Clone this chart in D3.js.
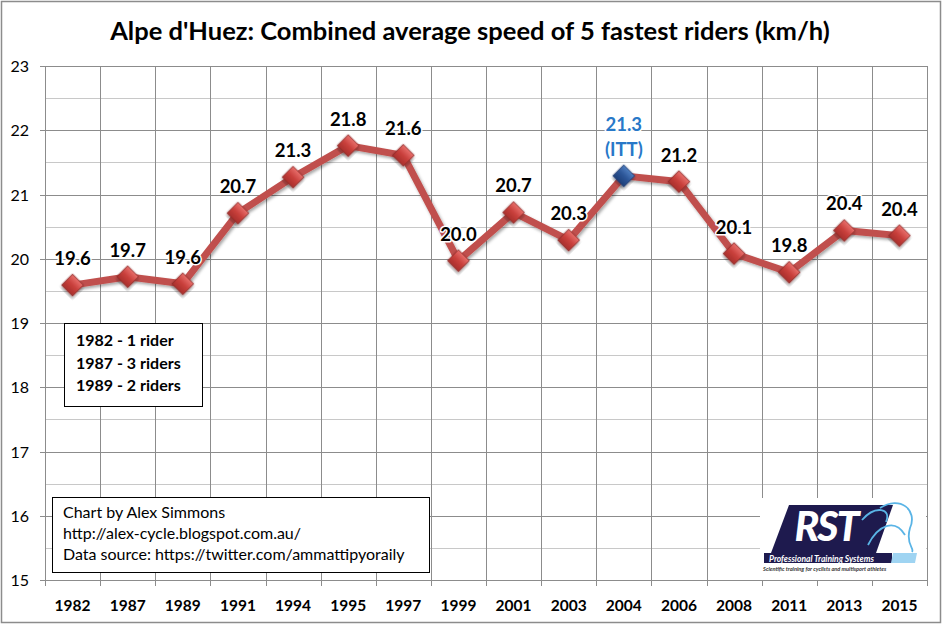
<!DOCTYPE html>
<html><head><meta charset="utf-8">
<script src="https://cdn.jsdelivr.net/npm/d3@7"></script>
<style>body{margin:0;background:#fff}svg{display:block}text{font-family:Lato,"Open Sans",sans-serif}</style>
</head><body><svg id="c" width="944" height="625"></svg>
<script>
const years = ["1982","1987","1989","1991","1994","1995","1997","1999","2001","2003","2004","2006","2008","2011","2013","2015"];
const speeds = [19.59,19.72,19.61,20.71,21.27,21.76,21.61,19.97,20.72,20.29,21.29,21.2,20.08,19.79,20.44,20.36];
const yTicks = [15,16,17,18,19,20,21,22,23];
const highlightYear = "2004";
const highlightNote = "(ITT)";
const noteLines = ["1982 - 1 rider","1987 - 3 riders","1989 - 2 riders"];
const creditLines = ["Chart by Alex Simmons","http://alex-cycle.blogspot.com.au/","Data source: https://twitter.com/ammattipyoraily"];
const titleText = "Alpe d'Huez: Combined average speed of 5 fastest riders (km/h)";

const svg = d3.select("#c");
const L=45,R=927,T=66,B=580;
const x = d3.scaleBand().domain(years).range([L,R]);
const y = d3.scaleLinear().domain([15,23]).range([B,T]);

const defs = svg.append("defs");
const gr = defs.append("linearGradient").attr("id","gr").attr("x1",0).attr("y1",0).attr("x2",0).attr("y2",1);
gr.append("stop").attr("offset","0").attr("stop-color","#e8706c");
gr.append("stop").attr("offset","0.5").attr("stop-color","#c9403c");
gr.append("stop").attr("offset","1").attr("stop-color","#a82f2c");
const gb = defs.append("linearGradient").attr("id","gb").attr("x1",0).attr("y1",0).attr("x2",0).attr("y2",1);
gb.append("stop").attr("offset","0").attr("stop-color","#4f7ec0");
gb.append("stop").attr("offset","0.5").attr("stop-color","#2c5597");
gb.append("stop").attr("offset","1").attr("stop-color","#1d3f78");
const sh = defs.append("filter").attr("id","sh").attr("x","-20%").attr("y","-20%").attr("width","140%").attr("height","140%");
sh.append("feDropShadow").attr("dx",1.5).attr("dy",2).attr("stdDeviation",1.5).attr("flood-color","#000").attr("flood-opacity",0.35);

// outer border
svg.append("rect").attr("x",1.5).attr("y",1.5).attr("width",939).attr("height",621).attr("fill","#fff").attr("stroke","#8c8c8c").attr("stroke-width",1.5);

// title
svg.append("text").attr("x",470).attr("y",40).attr("text-anchor","middle").attr("font-size",25.5).attr("font-weight","bold").attr("fill","#000").text(titleText);

// minor gridlines
const minor = d3.range(15.5,23,1);
svg.append("g").selectAll("line").data(minor).join("line")
  .attr("x1",L).attr("x2",R).attr("y1",d=>Math.round(y(d))+0.5).attr("y2",d=>Math.round(y(d))+0.5)
  .attr("stroke","#c8c8c8").attr("stroke-width",1);
// major gridlines
svg.append("g").selectAll("line").data(yTicks).join("line")
  .attr("x1",L-5).attr("x2",R).attr("y1",d=>Math.round(y(d))+0.5).attr("y2",d=>Math.round(y(d))+0.5)
  .attr("stroke","#8c8c8c").attr("stroke-width",1);
// vertical gridlines
const bounds = years.map(d=>x(d)).concat([R]);
svg.append("g").selectAll("line").data(bounds).join("line")
  .attr("x1",d=>Math.round(d)+0.5).attr("x2",d=>Math.round(d)+0.5).attr("y1",T).attr("y2",B+6)
  .attr("stroke","#8c8c8c").attr("stroke-width",1);

// y axis labels
svg.append("g").selectAll("text").data(yTicks).join("text")
  .attr("x",29).attr("y",d=>y(d)+6).attr("text-anchor","end").attr("font-size",16).attr("fill","#000").text(d=>d);
// x axis labels
svg.append("g").selectAll("text").data(years).join("text")
  .attr("x",d=>x(d)+x.bandwidth()/2).attr("y",611).attr("text-anchor","middle").attr("font-size",15.5).attr("font-weight","bold").attr("fill","#000").text(d=>d);

// note box
const nb = svg.append("g");
nb.append("rect").attr("x",64.5).attr("y",323.5).attr("width",138).attr("height",83).attr("fill","#fff").attr("stroke","#000").attr("stroke-width",1);
nb.selectAll("text").data(noteLines).join("text").attr("x",76).attr("y",(d,i)=>346+i*22.5).attr("font-size",16).attr("font-weight","bold").attr("fill","#000").text(d=>d);

// credit box
const cb = svg.append("g");
cb.append("rect").attr("x",52.5).attr("y",497.5).attr("width",377).attr("height",75).attr("fill","#fff").attr("stroke","#000").attr("stroke-width",1);
cb.selectAll("text").data(creditLines).join("text").attr("x",63).attr("y",(d,i)=>518+i*21).attr("font-size",16).attr("fill","#000").text(d=>d);

// logo
const lg = svg.append("g");
lg.append("rect").attr("x",760).attr("y",498).attr("width",166).attr("height",82).attr("fill","#fff");
lg.append("path").attr("d","M789,505 L893,505 L876,553 L771,553 Z").attr("fill","#1e1a4e");
lg.append("text").attr("x",826).attr("y",541).attr("text-anchor","middle").attr("font-size",41).attr("font-weight","900").attr("font-style","italic").attr("fill","#fff").attr("letter-spacing",-2).text("RST");
lg.append("rect").attr("x",764).attr("y",553).attr("width",128).attr("height",10).attr("fill","#1e1a4e");
lg.append("path").attr("d","M893,553 L917,553 L915,563 L891,563 Z").attr("fill","#9fd4f2");
lg.append("text").attr("x",769).attr("y",562).attr("font-size",8.5).attr("font-style","italic").attr("font-weight","bold").attr("fill","#fff").text("Professional Training Systems");
lg.append("path").attr("d","M880,508 C900,495 918,510 910,528 C905,545 915,548 912,552 M868,545 C878,525 895,518 905,535 M862,520 C875,505 892,508 886,522").attr("fill","none").attr("stroke","#5ab4e6").attr("stroke-width",1.8);
lg.append("text").attr("x",763).attr("y",571).attr("font-size",5.6).attr("font-style","italic").attr("font-weight","bold").attr("fill","#333").text("Scientific training for cyclists and multisport athletes");

// line
const line = d3.line().x((d,i)=>x(years[i])+x.bandwidth()/2).y(d=>y(d));
svg.append("path").datum(speeds).attr("d",line).attr("fill","none").attr("stroke","#c0504d").attr("stroke-width",7).attr("stroke-linejoin","miter").attr("filter","url(#sh)");

// markers
const pts = speeds.map((v,i)=>({yr:years[i],v}));
svg.append("g").selectAll("path").data(pts).join("path")
  .attr("d",d3.symbol(d3.symbolSquare,240))
  .attr("transform",d=>`translate(${x(d.yr)+x.bandwidth()/2},${y(d.v)}) rotate(45)`)
  .attr("fill",d=>d.yr===highlightYear?"url(#gb)":"url(#gr)")
  .attr("stroke",d=>d.yr===highlightYear?"#1a3a70":"#8e2b28").attr("stroke-width",0.8)
  .attr("filter","url(#sh)");

// labels
const lab = svg.append("g");
pts.forEach(d=>{
  const cx = x(d.yr)+x.bandwidth()/2, cy=y(d.v);
  const hl = d.yr===highlightYear;
  const lines = hl ? [d.v.toFixed(1), highlightNote] : [d.v.toFixed(1)];
  lines.forEach((t,i)=>{
    const yy = cy - 20 - (lines.length-1-i)*25;
    lab.append("text").attr("x",cx).attr("y",yy).attr("text-anchor","middle").attr("font-size",18.5).attr("font-weight","bold")
      .attr("stroke","#fff").attr("stroke-width",3).attr("stroke-linejoin","round").attr("fill","#fff").text(t);
    lab.append("text").attr("x",cx).attr("y",yy).attr("text-anchor","middle").attr("font-size",18.5).attr("font-weight","bold")
      .attr("fill",hl?"#2878c8":"#000").text(t);
  });
});
</script></body></html>
